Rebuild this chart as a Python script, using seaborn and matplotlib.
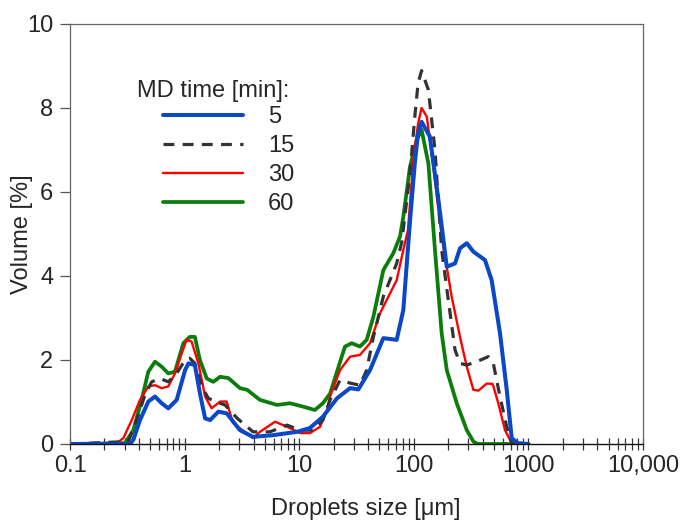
import matplotlib
matplotlib.use("Agg")
import matplotlib.pyplot as plt
import matplotlib.ticker as mticker
import seaborn as sns
import pandas as pd

# ---------------- data ----------------
series_names = ["5", "15", "30", "60"]

x_5 = [0.1, 0.334, 0.357, 0.408, 0.482, 0.552, 0.631, 0.721, 0.853, 1.01, 1.08, 1.23, 1.36, 1.51,
       1.67, 1.97, 2.33, 3.04, 3.95, 5.91, 9.57, 12.4, 16.1, 21.4, 27.8, 32.8, 41.5, 54.2, 70.9,
       81.0, 92.6, 102, 109, 117, 138, 164, 194, 229, 253, 290, 331, 418, 478, 565, 647, 715, 811, 1000]
y_5 = [0, 0, 0.10, 0.57, 1.01, 1.13, 0.97, 0.85, 1.05, 1.76, 1.92, 1.88, 1.21, 0.61,
       0.57, 0.77, 0.73, 0.33, 0.17, 0.21, 0.29, 0.38, 0.65, 1.09, 1.33, 1.30, 1.76, 2.52, 2.48,
       3.19, 5.30, 6.68, 7.40, 7.67, 7.32, 5.81, 4.22, 4.30, 4.66, 4.78, 4.58, 4.38, 3.90, 2.64, 1.29, 0.14, 0.02, 0]

x_15 = [0.1, 0.323, 0.382, 0.451, 0.516, 0.610, 0.721, 0.853, 1.01, 1.11, 1.23, 1.41, 1.61, 1.84,
        2.25, 2.86, 3.95, 5.56, 7.83, 10.2, 13.2, 16.1, 18.6, 22.7, 27.8, 33.9, 38.8, 44.4, 54.2,
        70.9, 78.4, 92.6, 102, 109, 117, 134, 153, 175, 200, 229, 253, 290, 354, 447, 494, 565,
        647, 715, 1000]
y_15 = [0, 0.06, 0.57, 1.17, 1.48, 1.56, 1.48, 1.68, 2.00, 2.04, 1.92, 1.37, 1.09, 1.01,
        0.93, 0.62, 0.29, 0.29, 0.45, 0.33, 0.33, 0.57, 1.05, 1.52, 1.45, 1.40, 1.76, 2.55, 3.51,
        4.30, 4.80, 6.44, 7.79, 8.59, 8.89, 8.43, 7.00, 4.62, 3.43, 2.24, 1.92, 1.88, 1.96, 2.08, 1.92, 1.13,
        0.41, 0.02, 0]

x_30 = [0.1, 0.256, 0.292, 0.346, 0.408, 0.482, 0.552, 0.631, 0.721, 0.824, 0.944, 1.04, 1.15,
        1.32, 1.51, 1.72, 2.04, 2.33, 2.64, 3.95, 4.55, 6.15, 7.83, 10.2, 12.4, 15.2, 17.5, 18.6,
        22.7, 27.8, 33.9, 41.5, 50.7, 70.9, 81.0, 89.0, 99.1, 109, 117, 130, 148, 175, 214, 253,
        290, 331, 366, 433, 488, 546, 625, 715, 1000]
y_30 = [0, 0.02, 0.14, 0.57, 1.05, 1.37, 1.40, 1.33, 1.37, 1.68, 2.16, 2.48, 2.44,
        1.92, 1.13, 0.85, 1.01, 1.01, 0.50, 0.14, 0.29, 0.53, 0.41, 0.26, 0.26, 0.41, 0.81, 1.13,
        1.76, 2.08, 2.12, 2.40, 3.11, 3.90, 4.62, 5.10, 6.76, 7.63, 8.00, 7.79, 6.60, 4.94, 3.51, 2.55,
        1.84, 1.29, 1.27, 1.44, 1.43, 0.97, 0.33, 0.02, 0]

x_60 = [0.1, 0.302, 0.357, 0.422, 0.482, 0.552, 0.631, 0.721, 0.824, 0.975, 1.11, 1.23, 1.36,
        1.56, 1.78, 2.04, 2.41, 3.04, 3.51, 4.55, 6.40, 8.31, 10.8, 13.7, 16.1, 18.6, 22.7, 25.1,
        28.7, 33.9, 38.8, 44.4, 54.2, 66.2, 75.8, 81.0, 92.6, 106, 117, 134, 153, 175, 194, 237,
        290, 331, 360, 1000]
y_60 = [0, 0.02, 0.33, 1.05, 1.72, 1.96, 1.84, 1.68, 1.72, 2.40, 2.55, 2.55, 2.00,
        1.56, 1.48, 1.60, 1.57, 1.33, 1.29, 1.05, 0.93, 0.97, 0.89, 0.81, 0.97, 1.20, 1.95, 2.32,
        2.40, 2.32, 2.48, 3.03, 4.14, 4.54, 4.94, 5.41, 6.60, 7.24, 7.48, 6.68, 4.62, 2.64, 1.76, 0.97,
        0.33, 0.06, 0, 0]

x_ticks = [0.1, 1, 10, 100, 1000, 10000]
x_tick_labels = ["0.1", "1", "10", "100", "1000", "10,000"]
y_ticks = [0, 2, 4, 6, 8, 10]

# ---------------- style ----------------
FS = 17
sns.set_style("white")
plt.rcParams["font.family"] = ["Liberation Sans", "DejaVu Sans"]
plt.rcParams["font.size"] = FS

fig = plt.figure(figsize=(6.84, 5.21), dpi=100)
ax = fig.add_axes([70 / 684, 1 - 444 / 521, (643 - 70) / 684, (444 - 24) / 521])

styles = {
    "60": dict(color="#0a7d0a", lw=2.7, ls="-"),
    "30": dict(color="#ff0000", lw=1.7, ls="-"),
    "15": dict(color="#333333", lw=2.3, ls=(0, (3.4, 2.6))),
    "5": dict(color="#0a48c8", lw=2.9, ls="-"),
}
data = {"5": (x_5, y_5), "15": (x_15, y_15), "30": (x_30, y_30), "60": (x_60, y_60)}

handles = {}
for name in ["60", "30", "15", "5"]:
    xs, ys = data[name]
    df = pd.DataFrame({"x": xs, "y": ys})
    st = styles[name]
    sns.lineplot(data=df, x="x", y="y", ax=ax, color=st["color"], linewidth=st["lw"],
                 linestyle=st["ls"], estimator=None, sort=False, legend=False)
    handles[name] = ax.lines[-1]

ax.set_xscale("log")
ax.set_xlim(0.1, 10000)
ax.set_ylim(0, 10)
ax.set_xticks(x_ticks)
ax.set_xticklabels(x_tick_labels)
ax.xaxis.set_minor_locator(mticker.LogLocator(base=10, subs=range(2, 10), numticks=20))
ax.xaxis.set_minor_formatter(mticker.NullFormatter())
ax.set_yticks(y_ticks)

ax.tick_params(axis="x", which="both", direction="inout", length=8, width=0.9,
               color="#333333", labelsize=FS, pad=4, bottom=True)
ax.tick_params(axis="y", which="major", direction="out", length=7, width=0.9,
               color="#555555", labelsize=FS, pad=5, left=True)

for side in ["left", "top", "right"]:
    ax.spines[side].set_color("#666666")
    ax.spines[side].set_linewidth(0.9)
ax.spines["bottom"].set_color("#111111")
ax.spines["bottom"].set_linewidth(1.0)

ax.set_xlabel("Droplets size [μm]", fontsize=FS)
ax.set_ylabel("Volume [%]", fontsize=FS)
ax.xaxis.set_label_coords((366 - 70) / 573, -0.128)
ax.yaxis.set_label_coords((33 - 70) / 573, 0.5)

# legend
ax.text((137 - 70) / 573, (444 - 91) / 420, "MD time [min]:", transform=ax.transAxes,
        fontsize=FS, va="center", ha="left")
leg = ax.legend([handles[n] for n in series_names], series_names,
                loc="upper left", bbox_to_anchor=((163 - 70) / 573, (444 - 106) / 420),
                frameon=False, handlelength=3.4, handletextpad=1.05, labelspacing=0.30,
                fontsize=FS, borderaxespad=0, borderpad=0)

fig.savefig("out.png", dpi=100)
